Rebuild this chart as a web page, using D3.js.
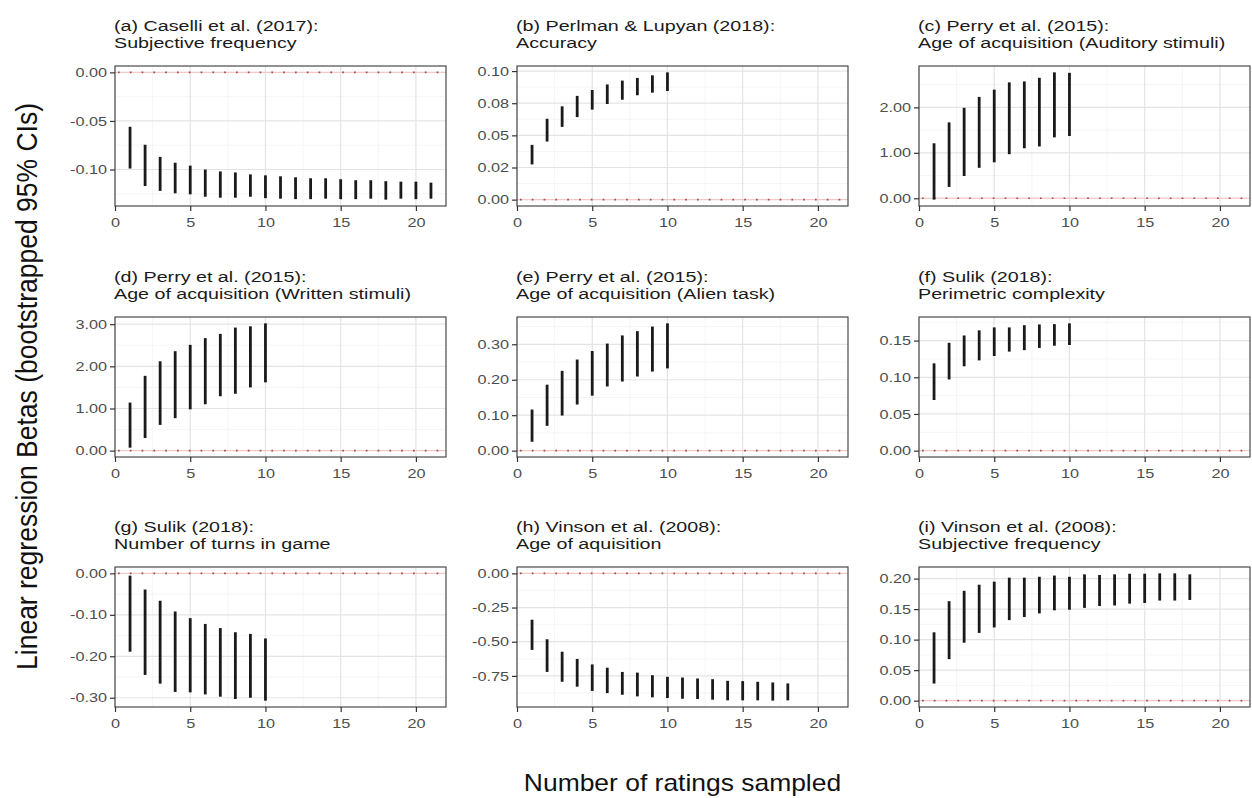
<!DOCTYPE html>
<html>
<head>
<meta charset="utf-8">
<script src="https://cdn.jsdelivr.net/npm/d3@7"></script>
<style>
  body { margin: 0; background: #fff; }
  text { font-family: "Liberation Sans", Arial, sans-serif; }
</style>
</head>
<body>
<script>
const titles = [
  ["(a) Caselli et al. (2017):", "Subjective frequency"],
  ["(b) Perlman & Lupyan (2018):", "Accuracy"],
  ["(c) Perry et al. (2015):", "Age of acquisition (Auditory stimuli)"],
  ["(d) Perry et al. (2015):", "Age of acquisition (Written stimuli)"],
  ["(e) Perry et al. (2015):", "Age of acquisition (Alien task)"],
  ["(f) Sulik (2018):", "Perimetric complexity"],
  ["(g) Sulik (2018):", "Number of turns in game"],
  ["(h) Vinson et al. (2008):", "Age of aquisition"],
  ["(i) Vinson et al. (2008):", "Subjective frequency"]
];

const xTicks = [0, 5, 10, 15, 20];

// lower / upper CI bounds, one value per number of ratings (1, 2, 3 ...)
const lowA = [-0.099, -0.117, -0.122, -0.1245, -0.1255, -0.128, -0.129, -0.129, -0.128, -0.1295, -0.130,
              -0.1305, -0.1305, -0.130, -0.1305, -0.1305, -0.130, -0.131, -0.130, -0.1305, -0.130];
const highA = [-0.056, -0.0745, -0.087, -0.093, -0.096, -0.100, -0.102, -0.103, -0.105, -0.106, -0.107,
               -0.108, -0.109, -0.109, -0.110, -0.111, -0.111, -0.112, -0.1125, -0.1125, -0.1135];
const lowB = [0.0274, 0.0452, 0.0566, 0.0642, 0.0700, 0.0744, 0.0777, 0.0812, 0.0832, 0.0845];
const highB = [0.0426, 0.0629, 0.0726, 0.0807, 0.0853, 0.0896, 0.0926, 0.0947, 0.0967, 0.0990];
const lowC = [-0.03, 0.25, 0.49, 0.67, 0.79, 0.97, 1.10, 1.14, 1.34, 1.37];
const highC = [1.21, 1.67, 1.99, 2.23, 2.39, 2.55, 2.57, 2.65, 2.77, 2.76];
const lowD = [0.07, 0.30, 0.61, 0.77, 0.98, 1.10, 1.29, 1.35, 1.50, 1.62];
const highD = [1.14, 1.775, 2.12, 2.36, 2.51, 2.67, 2.77, 2.92, 2.95, 3.02];
const lowE = [0.025, 0.070, 0.099, 0.130, 0.155, 0.181, 0.195, 0.209, 0.223, 0.232];
const highE = [0.116, 0.186, 0.225, 0.257, 0.281, 0.302, 0.325, 0.337, 0.350, 0.359];
const lowF = [0.069, 0.097, 0.115, 0.123, 0.129, 0.135, 0.137, 0.140, 0.143, 0.144];
const highF = [0.119, 0.147, 0.157, 0.164, 0.168, 0.168, 0.171, 0.172, 0.1725, 0.1735];
const lowG = [-0.189, -0.245, -0.266, -0.286, -0.287, -0.292, -0.2975, -0.303, -0.300, -0.307];
const highG = [-0.0055, -0.039, -0.066, -0.092, -0.108, -0.122, -0.132, -0.142, -0.146, -0.157];
const lowH = [-0.56, -0.721, -0.793, -0.829, -0.860, -0.876, -0.888, -0.900, -0.907, -0.912,
              -0.917, -0.919, -0.924, -0.929, -0.929, -0.929, -0.931, -0.929];
const highH = [-0.339, -0.482, -0.573, -0.626, -0.666, -0.690, -0.721, -0.726, -0.745, -0.757,
               -0.762, -0.769, -0.774, -0.786, -0.788, -0.793, -0.798, -0.805];
const lowI = [0.028, 0.068, 0.095, 0.111, 0.120, 0.132, 0.137, 0.143, 0.148, 0.149,
              0.152, 0.155, 0.156, 0.159, 0.160, 0.164, 0.164, 0.165];
const highI = [0.112, 0.163, 0.180, 0.190, 0.195, 0.2016, 0.2016, 0.203, 0.205, 0.203,
               0.207, 0.206, 0.207, 0.208, 0.208, 0.2086, 0.2086, 0.207];

const yTicksA = [-0.10, -0.05, 0];
const yTicksB = [0, 0.025, 0.05, 0.075, 0.10];
const yTicksC = [0, 1, 2];
const yTicksD = [0, 1, 2, 3];
const yTicksE = [0, 0.1, 0.2, 0.3];
const yTicksF = [0, 0.05, 0.10, 0.15];
const yTicksG = [-0.3, -0.2, -0.1, 0];
const yTicksH = [-0.75, -0.5, -0.25, 0];
const yTicksI = [0, 0.05, 0.10, 0.15, 0.20];

const yLabelsA = ["-0.10", "-0.05", "0.00"];
const yLabelsB = ["0.00", "0.02", "0.05", "0.08", "0.10"];
const yLabelsC = ["0.00", "1.00", "2.00"];
const yLabelsD = ["0.00", "1.00", "2.00", "3.00"];
const yLabelsE = ["0.00", "0.10", "0.20", "0.30"];
const yLabelsF = ["0.00", "0.05", "0.10", "0.15"];
const yLabelsG = ["-0.30", "-0.20", "-0.10", "0.00"];
const yLabelsH = ["-0.75", "-0.50", "-0.25", "0.00"];
const yLabelsI = ["0.00", "0.05", "0.10", "0.15", "0.20"];

const lows = [lowA, lowB, lowC, lowD, lowE, lowF, lowG, lowH, lowI];
const highs = [highA, highB, highC, highD, highE, highF, highG, highH, highI];
const yTicks = [yTicksA, yTicksB, yTicksC, yTicksD, yTicksE, yTicksF, yTicksG, yTicksH, yTicksI];
const yLabels = [yLabelsA, yLabelsB, yLabelsC, yLabelsD, yLabelsE, yLabelsF, yLabelsG, yLabelsH, yLabelsI];

const W = 1252, H = 798;
const colLeft = [115, 517, 919];
const rowTop = [66, 317, 567];
const pw = 331, ph = 140;
const sx = 1.25; // the reference text is drawn a bit wide

const svg = d3.select("body").append("svg")
    .attr("width", W)
    .attr("height", H);

// widen a text horizontally while keeping its anchor point
function widen(sel, k) {
  sel.each(function() {
    const t = d3.select(this);
    const x0 = +t.attr("x") || 0;
    t.attr("x", x0 / k).attr("transform", `scale(${k},1)`);
  });
}

const x = d3.scaleLinear().domain([0, 22]).range([0, pw]);

titles.forEach((t, i) => {
  const lo = lows[i], hi = highs[i];
  const dmin = Math.min(0, d3.min(lo)), dmax = Math.max(0, d3.max(hi));
  const pad = (dmax - dmin) * 0.05;
  const y = d3.scaleLinear().domain([dmin - pad, dmax + pad]).range([ph, 0]);
  const ticks = yTicks[i];
  const step = ticks[1] - ticks[0];
  const minor = d3.range(-40, 40).map(k => ticks[0] + (k + 0.5) * step)
    .filter(v => v > y.domain()[0] && v < y.domain()[1]);
  const xMinor = [2.5, 7.5, 12.5, 17.5];

  const g = svg.append("g")
      .attr("transform", `translate(${colLeft[i % 3]},${rowTop[Math.floor(i / 3)]})`);

  // grid
  g.selectAll(".ymin").data(minor).enter().append("line")
      .attr("x1", 0).attr("x2", pw)
      .attr("y1", d => y(d)).attr("y2", d => y(d))
      .attr("stroke", "#f0f0f0").attr("stroke-width", 0.7);
  g.selectAll(".xmin").data(xMinor).enter().append("line")
      .attr("y1", 0).attr("y2", ph)
      .attr("x1", d => x(d)).attr("x2", d => x(d))
      .attr("stroke", "#f0f0f0").attr("stroke-width", 0.7);
  g.selectAll(".ymaj").data(ticks).enter().append("line")
      .attr("x1", 0).attr("x2", pw)
      .attr("y1", d => y(d)).attr("y2", d => y(d))
      .attr("stroke", "#e4e4e4").attr("stroke-width", 1.2);
  g.selectAll(".xmaj").data(xTicks).enter().append("line")
      .attr("y1", 0).attr("y2", ph)
      .attr("x1", d => x(d)).attr("x2", d => x(d))
      .attr("stroke", "#e4e4e4").attr("stroke-width", 1.2);

  // zero reference line
  g.append("line")
      .attr("x1", 0).attr("x2", pw)
      .attr("y1", y(0)).attr("y2", y(0))
      .attr("stroke", "#f3c4c4").attr("stroke-width", 1);
  g.append("line")
      .attr("x1", 3).attr("x2", pw)
      .attr("y1", y(0)).attr("y2", y(0))
      .attr("stroke", "#a84848").attr("stroke-width", 1.7)
      .attr("stroke-dasharray", "1.7 10.1");

  // CI ranges
  g.selectAll(".ci").data(lo).enter().append("line")
      .attr("x1", (d, j) => x(j + 1)).attr("x2", (d, j) => x(j + 1))
      .attr("y1", d => y(d)).attr("y2", (d, j) => y(hi[j]))
      .attr("stroke", "#1a1a1a").attr("stroke-width", 2.8);

  // border
  g.append("rect")
      .attr("width", pw).attr("height", ph)
      .attr("fill", "none").attr("stroke", "#4a4a4a").attr("stroke-width", 1.2);

  // axes
  const labs = yLabels[i];
  const ya = g.append("g")
      .call(d3.axisLeft(y).tickValues(ticks).tickSize(5).tickPadding(3)
        .tickFormat((d, k) => labs[k]));
  const xa = g.append("g").attr("transform", `translate(0,${ph})`)
      .call(d3.axisBottom(x).tickValues(xTicks).tickSize(5).tickPadding(7));
  [ya, xa].forEach(a => {
    a.select(".domain").remove();
    a.selectAll(".tick line").attr("stroke", "#333").attr("stroke-width", 1.2);
    a.selectAll(".tick text").attr("fill", "#4d4d4d").style("font-size", "13px")
      .style("font-family", "Liberation Sans, Arial, sans-serif")
      .call(widen, sx);
  });

  // facet title
  g.append("text").attr("x", -1).attr("y", -35.5)
      .attr("fill", "#1a1a1a").style("font-size", "15.5px").text(t[0])
      .call(widen, 1.27);
  g.append("text").attr("x", -1).attr("y", -18)
      .attr("fill", "#1a1a1a").style("font-size", "15.5px").text(t[1])
      .call(widen, 1.27);
});

svg.append("text")
    .attr("transform", `translate(37,${(rowTop[0] + rowTop[2] + ph) / 2}) scale(1.12,1) rotate(-90)`)
    .attr("text-anchor", "middle")
    .style("font-size", "26.5px")
    .attr("fill", "#111")
    .text("Linear regression Betas (bootstrapped 95% CIs)");

svg.append("text")
    .attr("x", (colLeft[0] + colLeft[2] + pw) / 2)
    .attr("y", 791)
    .attr("text-anchor", "middle")
    .style("font-size", "23px")
    .attr("fill", "#111")
    .text("Number of ratings sampled")
    .call(widen, 1.15);
</script>
</body>
</html>
